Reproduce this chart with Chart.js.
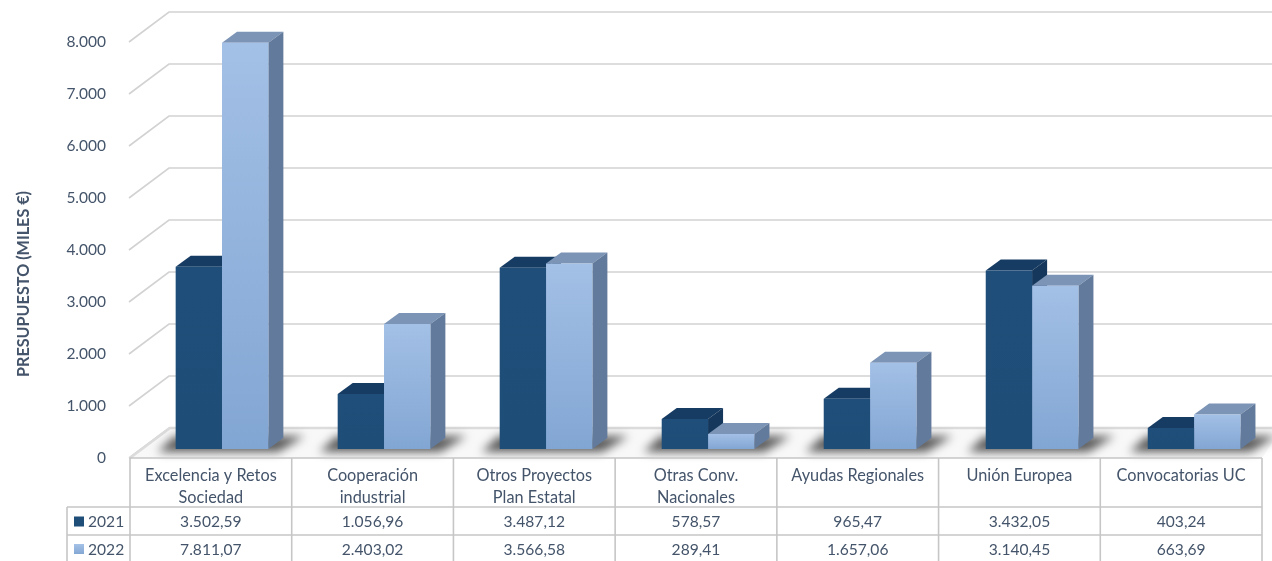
<!DOCTYPE html>
<html><head><meta charset="utf-8">
<style>html,body{margin:0;padding:0;background:#fff;overflow:hidden}canvas{display:block}</style>
<script src="https://cdn.jsdelivr.net/npm/chart.js@4"></script>
</head><body><canvas id="c" width="1272" height="561"></canvas>
<script>
const categories = [["Excelencia y Retos","Sociedad"],["Cooperación","industrial"],["Otros Proyectos","Plan Estatal"],["Otras Conv.","Nacionales"],"Ayudas Regionales","Unión Europea","Convocatorias UC"];
const seriesNames = ["2021","2022"];
const values2021 = [3502.59,1056.96,3487.12,578.57,965.47,3432.05,403.24];
const values2022 = [7811.07,2403.02,3566.58,289.41,1657.06,3140.45,663.69];
const yTickStep = 1000, yMax = 8000;
const axisTitle = "PRESUPUESTO (MILES €)";

const TXT = "#44546a", GRID = "#d2d2d2", TBL = "#c6c6c6";
const FONT = '"Lato"';
const DEPTH_X = 15, DEPTH_Y = 11, BAR_SHIFT = 10.75, BAR_STRETCH = 1.00186, WALL_X = 40, WALL_Y = 30;

function fmt(v, dec){
  const s = v.toFixed(dec).split(".");
  s[0] = s[0].replace(/\B(?=(\d{3})+$)/g, ".");
  return s.length > 1 ? s[0] + "," + s[1] : s[0];
}
function grad(colors){
  return function(ctx){
    const ch = ctx.chart;
    if (!ch.chartArea || ctx.type !== "data") return colors[0];
    const sc = ch.scales.y, t = sc.getPixelForValue(ctx.parsed.y), b = sc.getPixelForValue(0);
    const g = ch.ctx.createLinearGradient(0, t, 0, b);
    g.addColorStop(0, colors[0]); g.addColorStop(1, colors[1]);
    return g;
  };
}
function poly(c, pts, fill){
  c.beginPath(); pts.forEach((p,i)=> i?c.lineTo(p[0],p[1]):c.moveTo(p[0],p[1])); c.closePath();
  c.fillStyle = fill; c.fill();
}
const faces = [{top:"#173c63", side:"#14375b"},{top:"#7c94b6", side:"#627a9b"}];

const scene = {
  id:"scene",
  beforeDatasetsDraw(chart){
    const c = chart.ctx, a = chart.chartArea, y1 = chart.scales.y1;
    c.save();
    c.strokeStyle = GRID; c.lineWidth = 1.6;
    y1.ticks.forEach(t=>{
      const y = y1.getPixelForValue(t.value);
      c.beginPath();
      c.moveTo(a.left-1, y); c.lineTo(a.left-1+WALL_X, y-WALL_Y); c.lineTo(chart.width, y-WALL_Y);
      c.stroke();
    });
    const y0 = y1.getPixelForValue(0);
    poly(c, [[a.left,y0],[a.right,y0],[chart.width+10,y0-WALL_Y],[a.left+WALL_X,y0-WALL_Y]], "#f8f8f8");
    c.lineWidth = 2.4; c.beginPath(); c.moveTo(a.left,y0); c.lineTo(a.left+WALL_X,y0-WALL_Y); c.lineTo(chart.width,y0-WALL_Y); c.strokeStyle="#dcdcdc"; c.stroke();
    const m0 = chart.getDatasetMeta(0), m1 = chart.getDatasetMeta(1);
    const X = v => v*BAR_STRETCH + BAR_SHIFT;
    c.filter = "blur(5px)";
    m0.data.forEach((b,i)=>{
      const L = X(b.x - b.width/2), R = X(m1.data[i].x + m1.data[i].width/2), yb = b.base;
      poly(c, [[L-18,yb+3],[R+10,yb+3],[R+36,yb-13],[L-1,yb-13]], "#5a5a5a");
    });
    c.filter = "none";
    c.translate(BAR_SHIFT,0); c.scale(BAR_STRETCH,1);
    [m0,m1].forEach((m,k)=>{
      m.data.forEach(b=>{
        const l=b.x-b.width/2, r=b.x+b.width/2, t=b.y, bs=b.base;
        poly(c, [[l,t],[r,t],[r+DEPTH_X,t-DEPTH_Y],[l+DEPTH_X,t-DEPTH_Y]], faces[k].top);
        poly(c, [[r,t],[r+DEPTH_X,t-DEPTH_Y],[r+DEPTH_X,bs-DEPTH_Y],[r,bs]], faces[k].side);
      });
    });
    c.restore();
    c.save(); c.translate(BAR_SHIFT,0); c.scale(BAR_STRETCH,1);
  },
  afterDatasetsDraw(chart){ chart.ctx.restore(); },
  afterDraw(chart){
    const c = chart.ctx, a = chart.chartArea, x = chart.scales.x;
    const y0 = a.bottom, rows = [507,535], bottom = 561, keyLeft = 67;
    const bw = (a.right-a.left)/categories.length;
    c.save();
    c.strokeStyle = TBL; c.lineWidth = 1.6;
    const line=(x1,y1,x2,y2)=>{c.beginPath();c.moveTo(x1,y1);c.lineTo(x2,y2);c.stroke();};
    line(a.left,y0,a.right,y0);
    rows.forEach(r=>line(keyLeft,r,a.right,r));
    for(let i=0;i<=categories.length;i++) line(a.left+i*bw,y0,a.left+i*bw,bottom);
    line(keyLeft,rows[0],keyLeft,bottom);
    c.font = '15.6px '+FONT; c.fillStyle = TXT; c.textBaseline="middle";
    [values2021,values2022].forEach((vals,k)=>{
      const cy = k?549.5:522;
      c.textAlign="center"; c.fillStyle=TXT;
      vals.forEach((v,i)=>c.fillText(fmt(v,2), x.getPixelForTick(i), cy));
      c.textAlign="left";
      c.fillText(seriesNames[k], 88, cy);
      const g = c.createLinearGradient(0,cy-5,0,cy+5);
      if(k){g.addColorStop(0,"#a3c0e6");g.addColorStop(1,"#82a6d3");}else{g.addColorStop(0,"#1f4e79");g.addColorStop(1,"#1f4e79");}
      c.fillStyle=g; c.fillRect(74,cy-5.5,10,10);
    });
    c.translate(24, 284); c.rotate(-Math.PI/2);
    c.textAlign="center"; c.textBaseline="middle";
    c.font='bold 16.2px '+FONT; c.fillStyle=TXT;
    c.fillText(axisTitle,0,0);
    c.restore();
  }
};

new Chart(document.getElementById("c"),{
  type:"bar",
  data:{labels:categories,datasets:[
    {label:seriesNames[0],data:values2021,yAxisID:"y",backgroundColor:grad(["#1f4e7a","#1e4d78"]),borderWidth:0,clip:false,categoryPercentage:0.572,barPercentage:1},
    {label:seriesNames[1],data:values2022,yAxisID:"y",backgroundColor:grad(["#a3c0e6","#82a6d3"]),borderWidth:0,clip:false,categoryPercentage:0.572,barPercentage:1}
  ]},
  options:{
    responsive:false,animation:false,
    layout:{padding:{left:0,right:10,top:42,bottom:0}},
    plugins:{legend:{display:false},tooltip:{enabled:false},title:{display:false}},
    scales:{
      x:{type:"category",grid:{display:false},border:{display:false},
         ticks:{autoSkip:false,maxRotation:0,minRotation:0,color:TXT,padding:-1,font:{family:FONT,size:16.3,lineHeight:1.35}},
         afterFit(s){s.height=103;}},
      y:{display:false,min:-173,max:7827},
      y1:{position:"left",min:0,max:yMax,grid:{display:false},border:{display:false},
         ticks:{stepSize:yTickStep,color:TXT,padding:16,font:{family:FONT,size:15.5},callback:v=>fmt(v,0)},
         title:{display:false},
         afterFit(s){s.width=130;}}
    }
  },
  plugins:[scene]
});
</script></body></html>
